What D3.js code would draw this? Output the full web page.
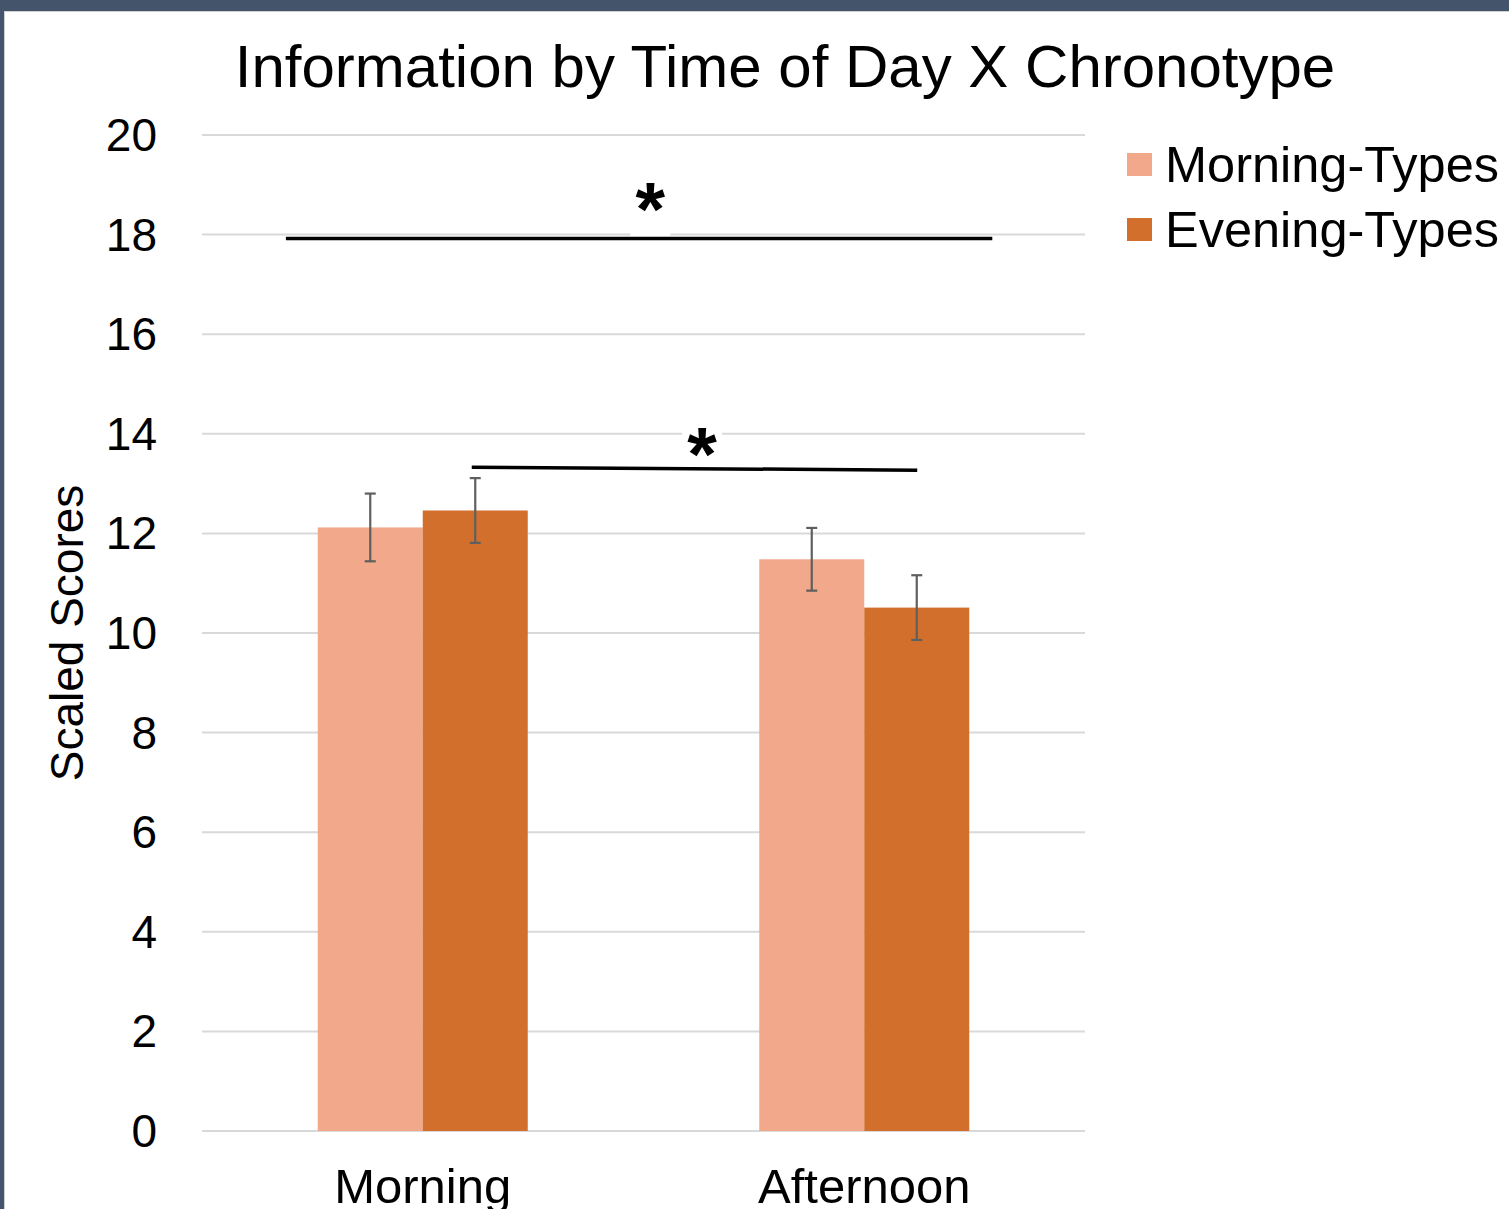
<!DOCTYPE html>
<html>
<head>
<meta charset="utf-8">
<script src="https://cdn.jsdelivr.net/npm/d3@7"></script>
<style>
  body { margin: 0; background: #44546a; }
  #frame { position: absolute; left: 4px; top: 11px; width: 1505px; height: 1198px; background: #fff; border-left: 1px solid #d0d0d0; border-top: 1px solid #d0d0d0; box-sizing: border-box; overflow: hidden; }
  svg { position: absolute; left: -5px; top: -12px; }
  text { font-family: "Liberation Sans", Arial, sans-serif; fill: #000; }
</style>
</head>
<body>
<div id="frame"><svg id="chart"></svg></div>
<script>
const categories = ["Morning", "Afternoon"];
const seriesNames = ["Morning-Types", "Evening-Types"];
const seriesColors = ["#f1a88b", "#d36f2c"];
const morningTypes = [12.12, 11.48];
const eveningTypes = [12.46, 10.51];
const morningErr = [0.68, 0.63];
const eveningErr = [0.65, 0.65];
const yTicks = [0, 2, 4, 6, 8, 10, 12, 14, 16, 18, 20];
// significance brackets: category + fraction of band for each end, value level at each end,
// star position along the line and the value level of the star's baseline
const brackets = [
    { from: ["Morning", 0.19], to: ["Afternoon", 0.79], y1: 17.92, y2: 17.92, star: 0.516, starY: 17.99 },
    { from: ["Morning", 0.611], to: ["Afternoon", 0.62], y1: 13.33, y2: 13.27, star: 0.517, starY: 13.07 }
];

function drawChart(width, height) {
    let svg = d3.select("#chart")
        .attr("width", width)
        .attr("height", height);

    let x0 = d3.scaleBand()
        .domain(categories)
        .range([202, 1085]);

    let groupWidth = 210;
    let x1 = d3.scaleBand()
        .domain(seriesNames)
        .range([0, groupWidth]);

    let y = d3.scaleLinear()
        .domain([0, 20])
        .range([1131, 135]);

    // gridlines
    svg.append("g")
        .selectAll("line")
        .data(yTicks)
        .enter()
        .append("line")
            .attr("x1", 202)
            .attr("x2", 1085)
            .attr("y1", d => y(d))
            .attr("y2", d => y(d))
            .attr("stroke", "#d9d9d9")
            .attr("stroke-width", 2);

    // tick labels
    svg.append("g")
        .selectAll("text")
        .data(yTicks)
        .enter()
        .append("text")
            .attr("x", 157)
            .attr("y", d => y(d) + 16)
            .attr("font-size", "46px")
            .style("text-anchor", "end")
            .text(d => d);

    let rows = categories.map((cat, i) => ({
        cat: cat,
        values: [
            { name: seriesNames[0], value: morningTypes[i], err: morningErr[i], color: seriesColors[0] },
            { name: seriesNames[1], value: eveningTypes[i], err: eveningErr[i], color: seriesColors[1] }
        ]
    }));

    let groups = svg.append("g")
        .selectAll("g")
        .data(rows)
        .enter()
        .append("g")
            .attr("transform", d => `translate(${x0(d.cat) + (x0.bandwidth() - groupWidth) / 2},0)`);

    groups.selectAll("rect")
        .data(d => d.values)
        .enter()
        .append("rect")
            .attr("x", d => x1(d.name))
            .attr("width", x1.bandwidth())
            .attr("y", d => y(d.value))
            .attr("height", d => y(0) - y(d.value))
            .attr("fill", d => d.color);

    // error bars
    let err = groups.selectAll("g.err")
        .data(d => d.values)
        .enter()
        .append("g")
            .classed("err", true)
            .attr("stroke", "#5f5f5f")
            .attr("stroke-width", 2.2);
    let cx = d => x1(d.name) + x1.bandwidth() / 2;
    err.append("line")
        .attr("x1", cx).attr("x2", cx)
        .attr("y1", d => y(d.value + d.err))
        .attr("y2", d => y(d.value - d.err));
    err.append("line")
        .attr("x1", d => cx(d) - 5.5).attr("x2", d => cx(d) + 5.5)
        .attr("y1", d => y(d.value + d.err))
        .attr("y2", d => y(d.value + d.err));
    err.append("line")
        .attr("x1", d => cx(d) - 5.5).attr("x2", d => cx(d) + 5.5)
        .attr("y1", d => y(d.value - d.err))
        .attr("y2", d => y(d.value - d.err));

    // significance brackets
    let bx = p => x0(p[0]) + p[1] * x0.bandwidth();
    brackets.forEach(b => {
        let xa = bx(b.from), xb = bx(b.to);
        let xs = xa + (xb - xa) * b.star;
        let ys = y(b.starY);
        svg.append("rect")
            .attr("x", xs - 20)
            .attr("y", ys - 55)
            .attr("width", 40)
            .attr("height", 57)
            .attr("fill", "#fff");
        svg.append("line")
            .attr("x1", xa).attr("x2", xb)
            .attr("y1", y(b.y1)).attr("y2", y(b.y2))
            .attr("stroke", "#000")
            .attr("stroke-width", 3.5);
        svg.append("text")
            .attr("x", xs)
            .attr("y", ys)
            .attr("font-size", "76px")
            .attr("font-weight", "bold")
            .style("text-anchor", "middle")
            .text("*");
    });

    // x labels
    svg.append("g")
        .selectAll("text")
        .data(categories)
        .enter()
        .append("text")
            .attr("x", d => x0(d) + x0.bandwidth() / 2)
            .attr("y", 1203)
            .attr("font-size", "49px")
            .style("text-anchor", "middle")
            .text(d => d);

    // y title
    svg.append("text")
        .attr("transform", "translate(83,633) rotate(-90)")
        .attr("font-size", "46px")
        .style("text-anchor", "middle")
        .text("Scaled Scores");

    // title
    svg.append("text")
        .attr("x", 785)
        .attr("y", 87)
        .attr("font-size", "60px")
        .style("text-anchor", "middle")
        .text("Information by Time of Day X Chronotype");

    // legend
    let legend = svg.append("g")
        .selectAll("g")
        .data(seriesNames)
        .enter()
        .append("g")
            .attr("transform", (d, i) => `translate(1127,${153 + i * 65})`);
    legend.append("rect")
        .attr("width", 25)
        .attr("height", 23)
        .attr("fill", (d, i) => seriesColors[i]);
    legend.append("text")
        .attr("x", 38)
        .attr("y", 29)
        .attr("font-size", "50.5px")
        .text(d => d);
}

drawChart(1509, 1209);
</script>
</body>
</html>
